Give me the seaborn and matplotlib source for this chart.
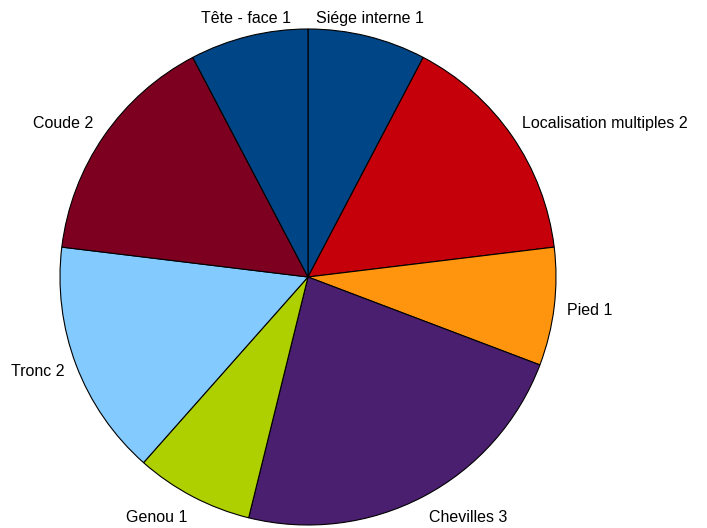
import matplotlib
matplotlib.use("Agg")
import matplotlib.pyplot as plt
import seaborn as sns
import numpy as np

categories = ["Siége interne", "Localisation multiples", "Pied", "Chevilles",
              "Genou", "Tronc", "Coude", "Tête - face"]
values = [1, 2, 1, 3, 1, 2, 2, 1]
colors = ["#004586", "#c5000b", "#ff950e", "#4b1f6f",
          "#aecf00", "#83caff", "#7e0021", "#004586"]

sns.set_style("white")
plt.rcParams['font.family'] = ['Liberation Sans', 'DejaVu Sans']

fig = plt.figure(figsize=(7.07, 5.28), dpi=100)
W, H = 707, 528
cx, cy, r = 308, 277, 248
ax = fig.add_axes([(cx - r) / W, (H - cy - r) / H, 2 * r / W, 2 * r / H])

wedges, _ = ax.pie(values, colors=colors, startangle=90, counterclock=False,
                   wedgeprops=dict(edgecolor="black", linewidth=0.8))
ax.set_xlim(-1, 1)
ax.set_ylim(-1, 1)
ax.set_aspect("equal")
ax.axis("off")

for w, cat, v in zip(wedges, categories, values):
    ang = np.deg2rad((w.theta1 + w.theta2) / 2)
    x, y = 1.05 * np.cos(ang), 1.05 * np.sin(ang) - 0.008
    c, s = np.cos(ang), np.sin(ang)
    if abs(c) < 0.3:
        ha = "center"
    else:
        ha = "left" if c > 0 else "right"
    if s > 0.5:
        va = "bottom"
    elif s < -0.5:
        va = "top"
    else:
        va = "center"
    ax.text(x, y, f"{cat} {v}", ha=ha, va=va, fontsize=11.5, color="black",
            clip_on=False)

fig.savefig("out.png", dpi=100)
